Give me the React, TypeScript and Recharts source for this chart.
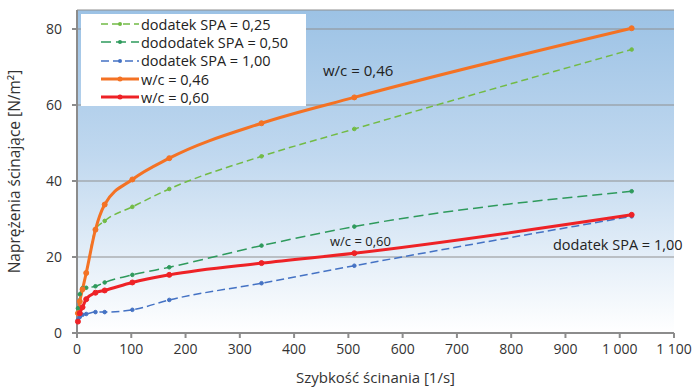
import React from 'react';
import { LineChart, Line, XAxis, YAxis, CartesianGrid, Legend, Label } from 'recharts';

// shear rates [1/s] (Fann viscometer speeds)
const rates = [1.7, 5.1, 10.2, 17, 34, 51, 102, 170, 340, 511, 1022];

const spa025 = [5.2, 8.3, 11.5, 15.8, 27.2, 29.5, 33.2, 37.9, 46.5, 53.7, 74.6];
const spa050 = [6.5, 10.2, 11.8, 11.9, 12.3, 13.3, 15.3, 17.3, 23.0, 28.0, 37.3];
const spa100 = [3.5, 4.2, 4.8, 5.0, 5.5, 5.5, 6.1, 8.7, 13.1, 17.7, 30.7];
const wc046 = [5.2, 8.3, 11.5, 15.8, 27.2, 33.8, 40.4, 46.0, 55.2, 62.0, 80.2];
const wc060 = [3.0, 5.2, 6.8, 8.9, 10.6, 11.2, 13.3, 15.3, 18.4, 21.0, 31.1];

const xTicks = [0, 100, 200, 300, 400, 500, 600, 700, 800, 900, 1000, 1100];
const yTicks = [0, 20, 40, 60, 80];

const series = [
  { key: 'spa025', name: 'dodatek SPA = 0,25', color: '#72bb45', width: 1.5, dash: '7 4' },
  { key: 'spa050', name: 'dododatek SPA = 0,50', color: '#2e9a5c', width: 1.5, dash: '10 5' },
  { key: 'spa100', name: 'dodatek SPA = 1,00', color: '#4472c4', width: 1.5, dash: '8 4' },
  { key: 'wc046', name: 'w/c = 0,46', color: '#f47224', width: 3, dash: undefined },
  { key: 'wc060', name: 'w/c = 0,60', color: '#ee2226', width: 3, dash: undefined },
];

const data = rates.map((r, i) => ({
  rate: r,
  spa025: spa025[i],
  spa050: spa050[i],
  spa100: spa100[i],
  wc046: wc046[i],
  wc060: wc060[i],
}));

const FONT = '"Open Sans", "Noto Sans", sans-serif';

const fmt = (v: number) => (v >= 1000 ? `${Math.floor(v / 1000)} ${String(v % 1000).padStart(3, '0')}` : `${v}`);

const LegendBox = () => (
  <div style={{ background: '#fff', width: 225, height: 92, paddingTop: 1, boxSizing: 'border-box' }}>
    {series.map((s) => (
      <div key={s.key} style={{ display: 'flex', alignItems: 'center', height: 18.3 }}>
        <svg width={60} height={10} style={{ flex: 'none' }}>
          <line x1={20} y1={5} x2={58} y2={5} stroke={s.color} strokeWidth={s.width} strokeDasharray={s.dash} />
          <circle cx={39} cy={5} r={s.width > 2 ? 2.5 : 2} fill={s.color} />
        </svg>
        <span style={{ fontFamily: FONT, fontSize: 14.5, color: '#222', whiteSpace: 'nowrap' }}>{s.name}</span>
      </div>
    ))}
  </div>
);

const App = () => (
  <div style={{ width: 694, height: 390, background: '#fff' }}>
    <style>{`body{margin:0}`}</style>
    <LineChart width={694} height={390} data={data} margin={{ top: 10, right: 20, left: 0, bottom: 0 }}>
      <defs>
        <linearGradient id="bg" x1="0" y1="0" x2="0" y2="1">
          <stop offset="0%" stopColor="#9cc2e5" />
          <stop offset="45%" stopColor="#c0d8ef" />
          <stop offset="100%" stopColor="#ffffff" />
        </linearGradient>
      </defs>
      <CartesianGrid vertical={false} fill="url(#bg)" fillOpacity={1} stroke="#8f8f8f" strokeWidth={1.2} />
      <XAxis
        dataKey="rate"
        type="number"
        domain={[0, 1100]}
        ticks={xTicks}
        tickFormatter={fmt}
        height={57}
        stroke="#8c8c8c"
        strokeWidth={2}
        tickSize={5}
        tickMargin={6}
        tick={{ fill: '#333', fontSize: 14, fontFamily: FONT }}
      >
        <Label value="Szybkość ścinania [1/s]" position="insideBottom" offset={7} style={{ fill: '#333', fontSize: 15, fontFamily: FONT }} />
      </XAxis>
      <YAxis
        type="number"
        domain={[0, 85]}
        ticks={yTicks}
        width={77}
        stroke="#8c8c8c"
        strokeWidth={2}
        tickSize={5}
        tickMargin={10}
        tick={{ fill: '#333', fontSize: 14, fontFamily: FONT }}
      >
        <Label value="Naprężenia ścinające [N/m²]" angle={-90} position="insideLeft" offset={14} style={{ fill: '#333', fontSize: 15.5, fontFamily: FONT, textAnchor: 'middle' }} />
      </YAxis>
      <Legend
        layout="vertical"
        align="center"
        verticalAlign="middle"
        content={<LegendBox />}
        wrapperStyle={{ left: 81, top: 14, width: 225, height: 92 }}
      />
      {series.map((s) => (
        <Line
          key={s.key}
          dataKey={s.key}
          name={s.name}
          type="monotone"
          stroke={s.color}
          strokeWidth={s.width}
          strokeDasharray={s.dash}
          dot={{ r: s.width > 2 ? 2.5 : 1.8, fill: s.color, stroke: s.color, strokeWidth: 1, strokeDasharray: '' }}
          isAnimationActive={false}
        />
      ))}
      <text x={323} y={76} fontFamily={FONT} fontSize={15} fill="#222">w/c = 0,46</text>
      <text x={330} y={246} fontFamily={FONT} fontSize={13} fill="#222">w/c = 0,60</text>
      <text x={553} y={250} fontFamily={FONT} fontSize={14.5} fill="#222">dodatek SPA = 1,00</text>
    </LineChart>
  </div>
);

export default App;
